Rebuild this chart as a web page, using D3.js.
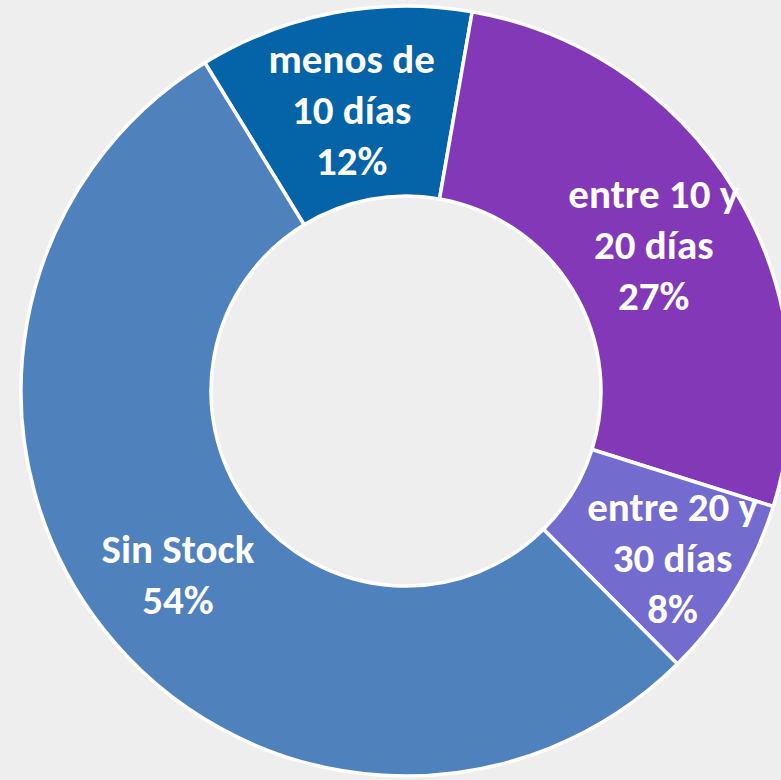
<!DOCTYPE html>
<html>
<head>
<meta charset="utf-8">
<script src="https://cdn.jsdelivr.net/npm/d3@7"></script>
<style>
  html, body { margin: 0; padding: 0; background: #eeeeee; }
  svg { display: block; }
</style>
</head>
<body>
<svg id="chart" width="781" height="780"></svg>
<script>
// slice data (share of items)
var categories = ['menos de 10 días', 'entre 10 y 20 días', 'entre 20 y 30 días', 'Sin Stock'];
var values = [11.5, 27.1, 7.7, 53.7];
// label lines as they wrap in the picture
var labelLines = [
    ['menos de', '10 días'],
    ['entre 10 y', '20 días'],
    ['entre 20 y', '30 días'],
    ['Sin Stock']
];
var colors = ['#0563a7', '#8338b8', '#736bcd', '#4f81bd'];

var svg = d3.select('#chart');

// donut geometry
var cx = 406, cy = 391;
var outerR = 385, innerR = 195;
var startDeg = -31.5;

var g = svg.append('g')
    .attr('transform', 'translate(' + cx + ',' + cy + ')');

var total = d3.sum(values);

var pie = d3.pie()
    .sort(null)
    .value(function(d) { return d.value; })
    .startAngle(startDeg * Math.PI / 180)
    .endAngle(startDeg * Math.PI / 180 + 2 * Math.PI);

var arc = d3.arc()
    .innerRadius(innerR)
    .outerRadius(outerR);

var data = categories.map(function(c, i) {
    return { name: c, value: values[i], lines: labelLines[i], color: colors[i] };
});

var arcs = pie(data);

// slices
g.selectAll('.slice')
    .data(arcs)
    .enter()
    .append('path')
    .attr('class', 'slice')
    .attr('d', arc)
    .attr('fill', function(d) { return d.data.color; })
    .attr('stroke', '#ffffff')
    .attr('stroke-width', 3.5)
    .attr('stroke-linejoin', 'miter');

// labels sit on the ring's middle, pushed out a bit for narrow slices
var midR = (innerR + outerR) / 2;
function labelPos(d) {
    var a = (d.startAngle + d.endAngle) / 2;
    var span = d.endAngle - d.startAngle;
    var r = span < Math.PI / 6 ? midR + 22 : midR;
    return [Math.sin(a) * r, -Math.cos(a) * r];
}

var lineH = 51;

var labels = g.selectAll('.label')
    .data(arcs)
    .enter()
    .append('text')
    .attr('class', 'label')
    .attr('text-anchor', 'middle')
    .attr('fill', '#ffffff')
    .style('font-family', 'Carlito, Calibri, Lato, sans-serif')
    .style('font-weight', 'bold')
    .style('font-size', '41px')
    .attr('transform', function(d) {
        var p = labelPos(d);
        return 'translate(' + p[0] + ',' + (p[1] + 4) + ')';
    });

labels.each(function(d) {
    var lines = d.data.lines.concat([Math.round(d.data.value / total * 100) + '%']);
    var n = lines.length;
    d3.select(this).selectAll('tspan')
        .data(lines)
        .enter()
        .append('tspan')
        .attr('x', 0)
        .attr('y', function(t, i) { return (i - (n - 1) / 2) * lineH; })
        .attr('dy', '0.35em')
        .text(function(t) { return t; });
});
</script>
</body>
</html>
